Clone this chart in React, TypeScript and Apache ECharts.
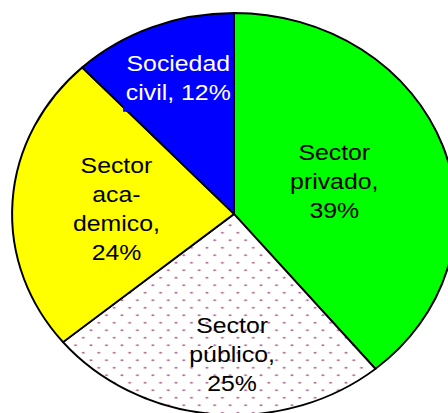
import React, { useEffect, useRef } from 'react';
import * as echarts from 'echarts';

// ---- data ----
const categories = ['Sector privado', 'Sector público', 'Sector academico', 'Sociedad civil'];
const values = [39, 25, 24, 12];
const labelTemplates = [
  'Sector\nprivado,\n{p}',
  'Sector\npúblico,\n{p}',
  'Sector\naca-\ndemico,\n{p}',
  'Sociedad\ncivil, {p}',
];

// ---- styles / layout ----
const sliceColors = ['#00ff00', 'dots', '#ffff00', '#0000ff'];
const textColors = ['#000000', '#000000', '#000000', '#ffffff'];
const labelPlacement: [number, number][] = [
  [0.48, 0],
  [0.7, -4.7],
  [0.53, -0.9],
  [0.72, 1.2],
];
const CX = 234;
const CY = 214;
const R = 201;
const SX = 222 / 201;

function makeDots(): HTMLCanvasElement {
  const c = document.createElement('canvas');
  c.width = 14;
  c.height = 15;
  const ctx = c.getContext('2d')!;
  ctx.fillStyle = '#ffffff';
  ctx.fillRect(0, 0, 14, 15);
  ctx.fillStyle = '#a0487a';
  [[3.5, 3.75], [10.5, 11.25]].forEach(([x, y]) => {
    ctx.beginPath();
    ctx.arc(x, y, 1.1, 0, Math.PI * 2);
    ctx.fill();
  });
  return c;
}

export default function App() {
  const ref = useRef<HTMLDivElement>(null);
  useEffect(() => {
    if (!ref.current) return;
    const chart = echarts.init(ref.current, undefined, { renderer: 'svg' });
    const total = values.reduce((a, b) => a + b, 0);
    const dots = makeDots();
    chart.setOption({
      animation: false,
      backgroundColor: '#ffffff',
      series: [
        {
          type: 'custom',
          coordinateSystem: 'none',
          data: values.map((v, i) => ({ name: categories[i], value: [v] })),
          renderItem: (params: any, api: any) => {
            const i = params.dataIndex;
            const v = api.value(0) as number;
            let before = 0;
            for (let k = 0; k < i; k++) before += values[k];
            const start = -Math.PI / 2 + (before / total) * 2 * Math.PI;
            const end = start + (v / total) * 2 * Math.PI;
            const [f, nudge] = labelPlacement[i];
            const mid = ((before + v / 2) / total) * 2 * Math.PI + (nudge * Math.PI) / 180;
            const lx = R * f * Math.sin(mid);
            const ly = -R * f * Math.cos(mid);
            const pct = Math.round((v / total) * 100) + '%';
            const text = labelTemplates[i].replace('{p}', pct);
            const fill = sliceColors[i] === 'dots' ? { image: dots, repeat: 'repeat' } : sliceColors[i];
            const textStyle: any = {
              text,
              fill: textColors[i],
              fontSize: 22.5,
              fontFamily: 'Liberation Sans, Arial, sans-serif',
              align: 'center',
              verticalAlign: 'middle',
              lineHeight: 29,
            };
            if (i === 3) {
              textStyle.backgroundColor = '#0000ff';
              textStyle.padding = [4, 2.5, 5, 2.5];
            }
            return {
              type: 'group',
              x: CX,
              y: CY,
              scaleX: SX,
              children: [
                {
                  type: 'sector',
                  shape: { cx: 0, cy: 0, r: R, r0: 0, startAngle: start, endAngle: end, clockwise: true },
                  style: { fill, stroke: '#000000', lineWidth: 1.8, lineJoin: 'round' },
                },
                {
                  type: 'text',
                  x: lx,
                  y: ly,
                  z2: 10,
                  style: textStyle,
                },
              ],
            };
          },
        },
      ],
    });
    return () => chart.dispose();
  }, []);
  return (
    <div
      ref={ref}
      style={{ position: 'absolute', left: 0, top: 0, width: 448, height: 413 }}
    />
  );
}
